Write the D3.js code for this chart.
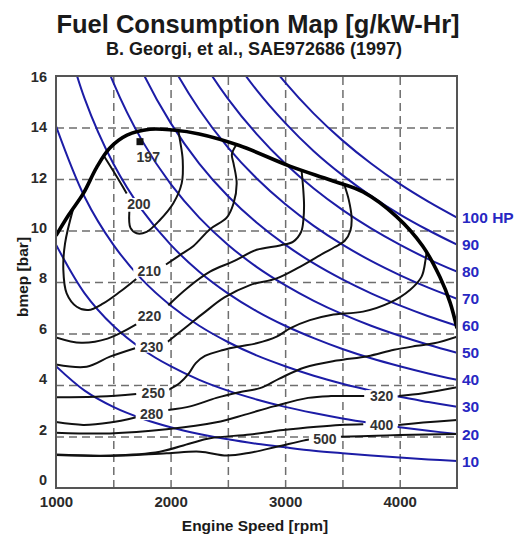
<!DOCTYPE html>
<html>
<head>
<meta charset="utf-8">
<script src="https://cdn.jsdelivr.net/npm/d3@7"></script>
<style>
	body {
		margin: 0;
		background: #fff;
	}
	svg text {
		font-family: 'Liberation Sans', Arial, sans-serif;
		font-weight: bold;
	}
	.grid line {
		stroke: #6e6e6e;
		stroke-width: 1.5;
		stroke-dasharray: 8, 5;
	}
	.grid path {
		display: none;
	}
	.axis path,
	.axis line {
		display: none;
	}
	.axis text {
		fill: #2a2a2a;
	}
	.hp-line {
		fill: none;
		stroke: #1c1ca6;
		stroke-width: 2;
	}
	.hp-label {
		fill: #2727c2;
		font-size: 15.5px;
	}
	.bsfc-line {
		fill: none;
		stroke: #111;
		stroke-width: 2;
	}
	.wot-line {
		fill: none;
		stroke: #000;
		stroke-width: 3.6;
	}
	.bsfc-label {
		fill: #333;
		font-size: 14px;
	}
</style>
</head>
<body>
<div id="fuel-map"></div>
<script>
// Tick labels
var rpmTicks = [1000, 2000, 3000, 4000];
var rpmGridLines = [1500, 2000, 2500, 3000, 3500, 4000];
var bmepTicks = [0, 2, 4, 6, 8, 10, 12, 14, 16];
var bmepGridLines = [2, 4, 6, 8, 10, 12, 14];

// Constant power lines (bmep in bar, read at each speed of rpmGrid)
var rpmGrid = [1000, 1250, 1500, 1750, 2000, 2250, 2500, 2750, 3000, 3250, 3500, 3750, 4000, 4250, 4500];
var hpLevels = [10, 20, 30, 40, 50, 60, 70, 80, 90, 100];
var hp10 = [4.73, 3.78, 3.15, 2.7, 2.36, 2.1, 1.89, 1.72, 1.58, 1.45, 1.35, 1.26, 1.18, 1.11, 1.05];
var hp20 = [9.45, 7.56, 6.3, 5.4, 4.73, 4.2, 3.78, 3.44, 3.15, 2.91, 2.7, 2.52, 2.36, 2.22, 2.1];
var hp30 = [14.05, 11.3, 9.45, 8.1, 7.09, 6.3, 5.67, 5.15, 4.73, 4.36, 4.05, 3.78, 3.54, 3.34, 3.15];
var hp40 = [18.9, 15.12, 12.6, 10.8, 9.45, 8.4, 7.56, 6.87, 6.3, 5.82, 5.4, 5.04, 4.73, 4.45, 4.2];
var hp50 = [23.63, 18.9, 15.75, 13.5, 11.81, 10.5, 9.45, 8.59, 7.88, 7.27, 6.75, 6.3, 5.91, 5.56, 5.25];
var hp60 = [28.35, 22.68, 18.9, 16.2, 14.18, 12.6, 11.34, 10.31, 9.45, 8.72, 8.1, 7.56, 7.09, 6.67, 6.3];
var hp70 = [33.08, 26.46, 22.05, 18.9, 16.54, 14.7, 13.23, 12.03, 11.03, 10.18, 9.45, 8.82, 8.27, 7.78, 7.35];
var hp80 = [37.8, 30.24, 25.2, 21.6, 18.9, 16.8, 15.12, 13.75, 12.6, 11.63, 10.8, 10.08, 9.45, 8.89, 8.4];
var hp90 = [42.53, 34.02, 28.35, 24.3, 21.26, 18.9, 17.01, 15.46, 14.18, 13.08, 12.15, 11.34, 10.63, 10.01, 9.45];
var hp100 = [47.25, 37.8, 31.5, 27.0, 23.63, 21.0, 18.9, 17.18, 15.75, 14.54, 13.5, 12.6, 11.81, 11.12, 10.5];
var hpValues = [hp10, hp20, hp30, hp40, hp50, hp60, hp70, hp80, hp90, hp100];

// Full load (WOT) curve, [rpm, bmep]
var wotCurve = [[1000, 9.8], [1110, 10.6], [1240, 11.45], [1355, 12.45], [1470, 13.2], [1620, 13.7], [1820, 13.93], [2020, 13.9], [2250, 13.75], [2600, 13.3], [3040, 12.5], [3400, 11.95], [3680, 11.5], [3970, 10.55], [4200, 9.4], [4350, 8.2], [4440, 7.2], [4500, 6.2]];

// BSFC contours [g/kW-hr], each one split where its label sits
var bsfc197 = [1733, 13.45];
var bsfc200 = [
	[[1413, 12.93], [1515, 12.2], [1617, 11.44]],
	[[1640, 10.73], [1650, 10.1], [1704, 9.89], [1791, 9.95], [1907, 10.41], [2024, 11.06], [2097, 11.83], [2106, 12.74], [2082, 13.51], [2067, 13.9]]
];
var bsfc210 = [
	[[1150, 10.85], [1079, 9.5], [1064, 8.47], [1093, 7.56], [1181, 7.04], [1282, 6.91], [1413, 7.17], [1558, 7.62], [1700, 8.12]],
	[[1960, 8.68], [2100, 9.1], [2200, 9.4], [2344, 10.05], [2490, 10.5], [2550, 11.06], [2577, 11.83], [2550, 12.6], [2535, 12.95], [2570, 13.3]]
];
var bsfc220 = [
	[[1000, 5.85], [1220, 5.64], [1450, 5.8], [1700, 6.35]],
	[[1980, 7.1], [2150, 7.78], [2344, 8.4], [2547, 8.8], [2751, 9.25], [2955, 9.42], [3071, 9.57], [3140, 9.95], [3160, 10.45], [3165, 11.0], [3158, 11.6], [3144, 12.3]]
];
var bsfc230 = [
	[[1000, 4.8], [1268, 4.71], [1471, 5.1], [1690, 5.43]],
	[[1975, 5.68], [2150, 6.3], [2285, 6.78], [2470, 7.4], [2693, 7.88], [2926, 8.14], [3129, 8.59], [3332, 9.11], [3430, 9.35], [3520, 9.6], [3570, 10.0], [3580, 10.5], [3555, 11.2], [3520, 11.73]]
];
var bsfc250 = [
	[[1000, 3.52], [1384, 3.55], [1700, 3.65]],
	[[1980, 3.81], [2080, 4.08], [2160, 4.45], [2220, 4.85], [2300, 5.13], [2460, 5.36], [2600, 5.5], [2751, 5.62], [2926, 5.88], [3042, 6.2], [3216, 6.52], [3400, 6.72], [3680, 6.85], [3915, 7.2], [4089, 7.69], [4191, 8.21], [4225, 8.85], [4234, 9.15]]
];
var bsfc280 = [
	[[1000, 2.56], [1238, 2.45], [1471, 2.54], [1700, 2.75]],
	[[1980, 3.03], [2180, 3.18], [2400, 3.5], [2600, 3.72], [2780, 3.88], [2950, 4.25], [3170, 4.68], [3450, 4.95], [3720, 5.12], [3950, 5.37], [4150, 5.52], [4300, 5.62], [4500, 5.88]]
];
var bsfc320 = [
	[[1000, 2.15], [1470, 2.12], [1966, 2.28], [2400, 2.55], [2650, 2.85], [2900, 3.17], [3200, 3.5], [3400, 3.57], [3690, 3.57]],
	[[3990, 3.57], [4205, 3.68], [4500, 3.91]]
];
var bsfc400 = [
	[[1000, 1.3], [1471, 1.26], [1907, 1.41], [2169, 1.73], [2344, 1.93], [2693, 2.08], [2983, 2.25], [3275, 2.38], [3478, 2.45], [3682, 2.48]],
	[[3987, 2.45], [4205, 2.54], [4500, 2.64]]
];
var bsfc500 = [
	[[1000, 1.28], [1471, 1.24], [1966, 1.35], [2257, 1.41], [2490, 1.26], [2693, 1.37], [2926, 1.6], [3158, 1.84], [3210, 1.88]],
	[[3478, 1.99], [3798, 2.03], [4002, 2.06], [4500, 2.1]]
];
var bsfcContours = [bsfc200, bsfc210, bsfc220, bsfc230, bsfc250, bsfc280, bsfc320, bsfc400, bsfc500];

var bsfcLabels = ['197', '200', '210', '220', '230', '250', '280', '320', '400', '500'];
var bsfcLabelRpm = [1805, 1724, 1814, 1816, 1835, 1849, 1835, 3842, 3842, 3347];
var bsfcLabelBmep = [12.84, 11.03, 8.44, 6.7, 5.49, 3.71, 2.87, 3.57, 2.45, 1.89];

/*
 * Render the fuel map.
 */
var renderFuelMap = function(config) {
	var margins = {
		top: 76,
		right: 63,
		bottom: 48,
		left: 56
	};

	var chartWidth = config['width'] - margins['left'] - margins['right'];
	var chartHeight = config['height'] - margins['top'] - margins['bottom'];

	var containerElement = d3.select(config['container']);
	containerElement.html('');

	var svg = containerElement
		.append('svg')
		.attr('width', config['width'])
		.attr('height', config['height']);

	// Titles
	svg.append('text')
		.attr('x', 258)
		.attr('y', 33)
		.attr('text-anchor', 'middle')
		.style('font-size', '25.5px')
		.attr('fill', '#1a1a1a')
		.text('Fuel Consumption Map [g/kW-Hr]');

	svg.append('text')
		.attr('x', 254)
		.attr('y', 55)
		.attr('text-anchor', 'middle')
		.style('font-size', '18px')
		.attr('fill', '#1a1a1a')
		.text('B. Georgi, et al., SAE972686 (1997)');

	var chartElement = svg
		.append('g')
		.attr('transform', 'translate(' + margins['left'] + ',' + margins['top'] + ')');

	/*
	 * Scales
	 */
	var xScale = d3.scaleLinear().domain([1000, 4500]).range([0, chartWidth]);
	var yScale = d3.scaleLinear().domain([0, 16]).range([chartHeight, 0]);
	// the printed tick numbers sit on a slightly tighter spacing than the grid
	var yLabelScale = d3.scaleLinear().domain([0, 16]).range([chartHeight - 8, 0.5]);

	chartElement
		.append('clipPath')
		.attr('id', 'plot-clip')
		.append('rect')
		.attr('width', chartWidth)
		.attr('height', chartHeight);

	/*
	 * Grid
	 */
	chartElement
		.append('g')
		.attr('class', 'x grid')
		.attr('transform', 'translate(0,' + chartHeight + ')')
		.call(d3.axisBottom(xScale).tickValues(rpmGridLines).tickSize(-chartHeight).tickFormat(''));

	chartElement
		.append('g')
		.attr('class', 'y grid')
		.call(d3.axisLeft(yScale).tickValues(bmepGridLines).tickSize(-chartWidth).tickFormat(''));

	/*
	 * Axes labels
	 */
	chartElement
		.append('g')
		.attr('class', 'x axis')
		.attr('transform', 'translate(0,' + chartHeight + ')')
		.call(d3.axisBottom(xScale).tickValues(rpmTicks).tickSize(0).tickPadding(8).tickFormat(d3.format('d')))
		.selectAll('text')
		.style('font-size', '15px');

	chartElement
		.append('g')
		.attr('class', 'y axis')
		.call(d3.axisLeft(yLabelScale).tickValues(bmepTicks).tickSize(0).tickPadding(9))
		.selectAll('text')
		.style('font-size', '14.5px');

	svg.append('text')
		.attr('x', 255)
		.attr('y', 531)
		.attr('text-anchor', 'middle')
		.style('font-size', '15.5px')
		.attr('fill', '#1a1a1a')
		.text('Engine Speed [rpm]');

	svg.append('text')
		.attr('transform', 'translate(28,277) rotate(-90)')
		.attr('text-anchor', 'middle')
		.style('font-size', '15.5px')
		.attr('fill', '#1a1a1a')
		.text('bmep [bar]');

	/*
	 * Lines
	 */
	var line = d3
		.line()
		.curve(d3.curveCatmullRom.alpha(0.5))
		.x(function(d) {
			return xScale(d[0]);
		})
		.y(function(d) {
			return yScale(d[1]);
		});

	var plotArea = chartElement.append('g').attr('clip-path', 'url(#plot-clip)');

	var hpData = hpLevels.map(function(hp, i) {
		return {
			hp: hp,
			values: rpmGrid.map(function(rpm, j) {
				return [rpm, hpValues[i][j]];
			})
		};
	});

	plotArea
		.append('g')
		.selectAll('path')
		.data(hpData)
		.enter()
		.append('path')
		.attr('class', 'hp-line')
		.attr('d', function(d) {
			return line(d['values']);
		});

	var segments = [];
	bsfcContours.forEach(function(c) {
		c.forEach(function(s) {
			segments.push(s);
		});
	});

	plotArea
		.append('g')
		.selectAll('path')
		.data(segments)
		.enter()
		.append('path')
		.attr('class', 'bsfc-line')
		.attr('d', line);

	plotArea
		.append('path')
		.attr('class', 'wot-line')
		.attr('d', line(wotCurve));

	// best point
	chartElement
		.append('rect')
		.attr('x', xScale(bsfc197[0]) - 3.5)
		.attr('y', yScale(bsfc197[1]) - 3.5)
		.attr('width', 7)
		.attr('height', 7)
		.attr('fill', '#111');

	/*
	 * Contour labels, knocked out of the lines behind them
	 */
	var labelGroup = chartElement
		.append('g')
		.selectAll('g')
		.data(bsfcLabels)
		.enter()
		.append('g')
		.attr('transform', function(d, i) {
			return 'translate(' + xScale(bsfcLabelRpm[i]) + ',' + yScale(bsfcLabelBmep[i]) + ')';
		});

	labelGroup
		.filter(function(d, i) {
			return i > 0;
		})
		.append('rect')
		.attr('x', -16)
		.attr('y', -6)
		.attr('width', 32)
		.attr('height', 12)
		.attr('fill', '#fff');

	labelGroup
		.append('text')
		.attr('class', 'bsfc-label')
		.attr('text-anchor', 'middle')
		.attr('dy', '0.36em')
		.text(function(d) {
			return d;
		});

	/*
	 * Power labels at the right edge
	 */
	chartElement
		.append('g')
		.selectAll('text')
		.data(hpData)
		.enter()
		.append('text')
		.attr('class', 'hp-label')
		.attr('x', chartWidth + 5)
		.attr('y', function(d) {
			return yScale(d['values'][d['values'].length - 1][1]);
		})
		.attr('dy', '0.36em')
		.text(function(d) {
			return d['hp'] == 100 ? '100 HP' : d['hp'];
		});

	// frame
	chartElement
		.append('rect')
		.attr('width', chartWidth)
		.attr('height', chartHeight)
		.attr('fill', 'none')
		.attr('stroke', '#555')
		.attr('stroke-width', 2);
};

renderFuelMap({
	container: '#fuel-map',
	width: 520,
	height: 536
});
</script>
</body>
</html>
